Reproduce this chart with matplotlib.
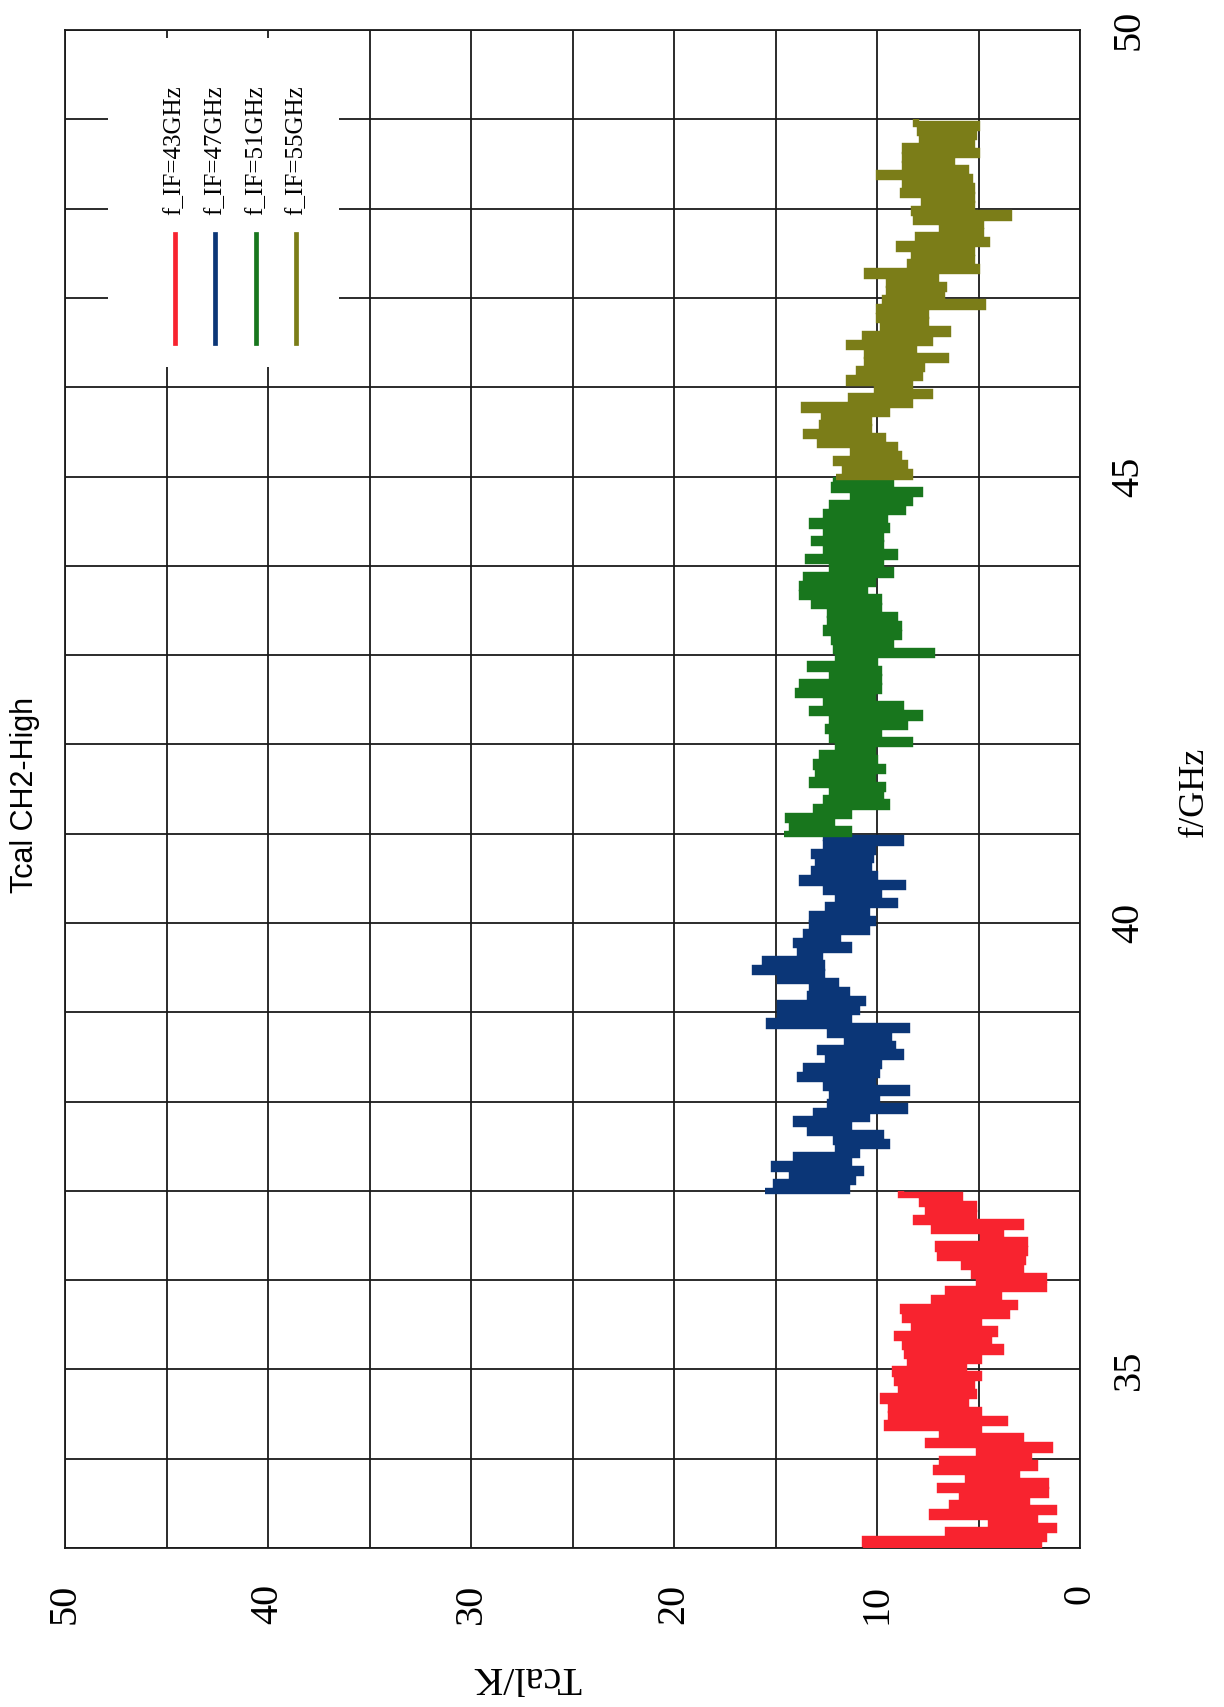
import numpy as np
import matplotlib
matplotlib.use('Agg')
import matplotlib.pyplot as plt
from matplotlib.patches import Rectangle

# page is scanned rotated: T runs right->left, f runs bottom->top
LABELS = ['f_IF=43GHz', 'f_IF=47GHz', 'f_IF=51GHz', 'f_IF=55GHz']
COLORS = ['#f8232f', '#0b3677', '#18761d', '#7b7d18']
F_START = [33, 37, 41, 45]
F_SPAN = 4

RED_T = [10.7, 2.0, 10.6, 1.8, 6.5, 1.3, 4.4, 2.2, 7.3, 1.3,
         6.3, 2.6, 5.8, 1.7, 6.9, 1.7, 5.5, 3.1, 7.1, 2.2,
         6.8, 2.5, 5.0, 1.5, 7.5, 2.9, 6.8, 5.0, 9.5, 3.7,
         9.3, 5.0, 9.3, 5.6, 9.7, 5.2, 8.8, 5.3, 9.0, 5.0,
         9.1, 5.7, 8.4, 5.0, 8.5, 3.9, 8.6, 4.5, 9.0, 4.2,
         8.2, 5.0, 8.6, 3.6, 8.7, 3.2, 7.2, 4.0, 6.5, 1.8,
         5.0, 1.8, 5.2, 2.9, 5.7, 2.8, 6.9, 2.7, 7.0, 2.7,
         4.8, 3.9, 7.2, 2.9, 8.1, 5.2, 7.5, 5.2, 7.8, 5.9,
         8.8]
BLUE_T = [15.5, 11.5, 15.0, 11.2, 14.2, 10.8, 15.1, 11.4, 14.0, 11.0,
          11.9, 9.5, 12.0, 9.8, 13.3, 11.4, 14.0, 10.5, 13.0, 8.6,
          12.3, 10.0, 12.2, 8.5, 12.5, 10.2, 13.8, 10.0, 13.5, 9.9,
          12.4, 8.8, 12.8, 9.2, 11.5, 9.4, 12.3, 8.5, 15.3, 11.4,
          14.8, 11.0, 14.8, 10.7, 13.3, 11.5, 13.2, 12.0, 14.8, 12.7,
          16.0, 12.7, 15.5, 12.8, 13.8, 11.4, 14.0, 11.9, 13.5, 10.5,
          13.2, 10.2, 13.2, 10.5, 12.4, 9.1, 11.9, 9.9, 12.5, 8.7,
          13.7, 10.1, 13.1, 10.4, 12.9, 10.3, 13.1, 10.2, 12.5, 8.8,
          12.5]
GREEN_T = [14.6, 11.4, 14.2, 12.2, 14.4, 11.4, 13.0, 9.5, 12.5, 9.8,
           12.2, 9.7, 13.2, 10.2, 12.9, 9.7, 13.0, 10.1, 12.7, 10.2,
           11.9, 8.4, 12.2, 9.9, 12.4, 8.6, 12.2, 7.9, 13.2, 8.8,
           12.5, 10.2, 13.9, 9.9, 13.7, 9.9, 12.2, 9.9, 13.3, 10.1,
           11.9, 7.3, 12.0, 9.3, 12.1, 8.9, 12.5, 8.9, 12.3, 9.1,
           12.3, 9.9, 13.1, 9.9, 13.7, 10.6, 13.7, 10.2, 13.5, 9.3,
           12.2, 9.8, 13.4, 9.1, 12.5, 9.8, 13.1, 9.8, 12.5, 9.5,
           13.2, 9.6, 12.5, 8.7, 12.2, 8.4, 11.2, 7.9, 12.1, 9.3,
           12.0]
OLIVE_T = [12.0, 8.4, 11.6, 8.6, 12.0, 8.9, 11.2, 9.1, 12.8, 9.7,
           13.5, 10.4, 12.7, 10.4, 12.6, 9.5, 13.6, 8.4, 11.3, 7.4,
           10.0, 8.4, 11.4, 7.9, 10.9, 7.8, 10.5, 6.6, 10.5, 8.2,
           11.4, 7.4, 10.6, 6.5, 9.7, 7.6, 9.9, 7.6, 9.9, 4.8,
           9.6, 6.8, 9.4, 6.7, 9.4, 7.1, 10.5, 5.1, 8.4, 5.3,
           8.2, 5.3, 8.9, 4.6, 8.0, 4.9, 6.8, 4.9, 8.1, 3.5,
           8.2, 5.3, 7.7, 5.3, 8.7, 5.3, 8.6, 5.4, 9.9, 5.6,
           8.6, 6.3, 8.6, 5.1, 8.6, 5.3, 7.8, 5.2, 7.9, 5.1,
           8.1]

SERIF = 'Liberation Serif'
SANS = 'Liberation Sans'

fig = plt.figure(figsize=(12.24, 17.07), dpi=100)
ax = fig.add_axes([0.0531, 0.0931, 0.8293, 0.8893])

for vals, f0, color in zip([RED_T, BLUE_T, GREEN_T, OLIVE_T], F_START, COLORS):
    f = np.linspace(f0, f0 + F_SPAN, len(vals))
    ax.plot(vals, f, color=color, lw=4.6, drawstyle='steps-post',
            solid_joinstyle='miter', solid_capstyle='butt', zorder=3)

ax.set_xlim(50, 0)
ax.set_ylim(33, 50)

xt = np.arange(0, 51, 5)
ax.set_xticks(xt)
ax.set_xticklabels([str(v) if v % 10 == 0 else '' for v in xt])
yt = np.arange(33, 51, 1)
ax.set_yticks(yt)
ax.set_yticklabels([str(v) if v % 5 == 0 else '' for v in yt])

ax.tick_params(length=0, labelsize=29)
ax.tick_params(axis='x', pad=26)
ax.tick_params(axis='y', labelleft=False, labelright=True, pad=22)
for lab in ax.get_xticklabels():
    lab.set_rotation(90)
    lab.set_family(SERIF)
for lab in ax.get_yticklabels():
    lab.set_rotation(90)
    lab.set_va('center')
    lab.set_family(SERIF)

ax.grid(True, color='#1a1a1a', lw=1.3)
for sp in ax.spines.values():
    sp.set_linewidth(1.3)
    sp.set_color('#1a1a1a')

# legend, drawn rotated by hand
ax.add_patch(Rectangle((36.5, 46.23), 11.4, 3.68, facecolor='white',
                       edgecolor='none', zorder=2))
for i, (label, color) in enumerate(zip(LABELS, COLORS)):
    t = 44.6 - 2.0 * i
    ax.plot([t, t], [46.49, 47.72], color=color, lw=3.4, zorder=3)
    ax.text(t, 47.93, label, rotation=90, ha='center', va='bottom',
            fontsize=18, family=SERIF, zorder=4)

ax.text(0.455, -0.0843, 'Tcal/K', transform=ax.transAxes, rotation=180,
        ha='center', va='center', fontsize=29, family=SERIF)
ax.text(1.113, 0.498, 'f/GHz', transform=ax.transAxes, rotation=90,
        ha='center', va='center', fontsize=26, family=SERIF)
ax.text(-0.0394, 0.496, 'Tcal CH2-High', transform=ax.transAxes, rotation=90,
        ha='center', va='center', fontsize=22, family=SANS)

fig.savefig('out.png', dpi=100)
